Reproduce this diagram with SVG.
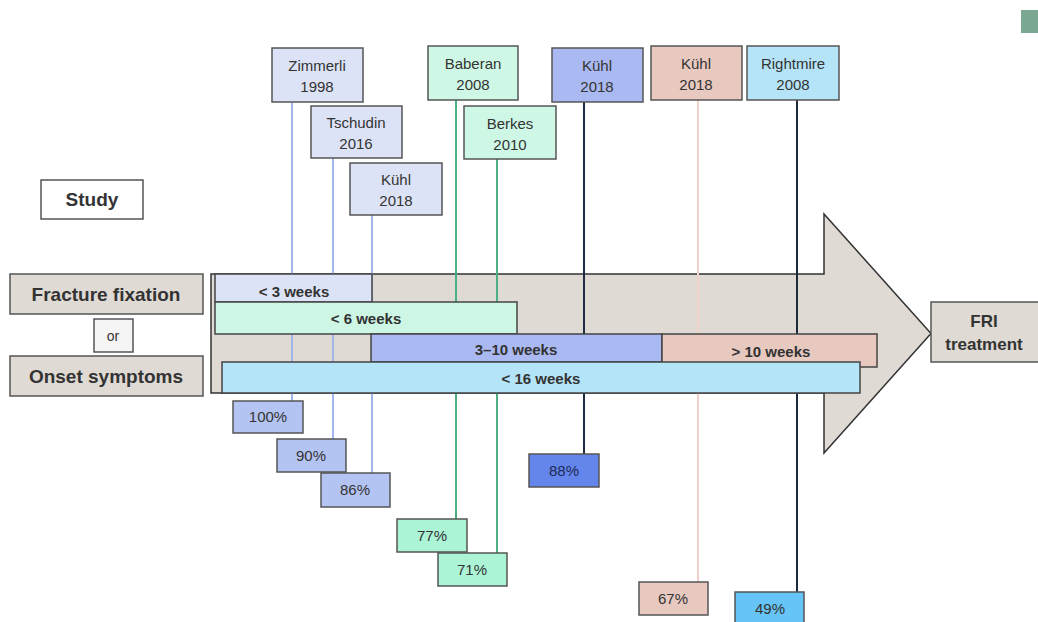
<svg xmlns="http://www.w3.org/2000/svg" width="1038" height="622" viewBox="0 0 1038 622">
<style>
text{font-family:"Liberation Sans",Arial,sans-serif;fill:#333;text-anchor:middle}
.b{stroke:#555;stroke-width:1.5}
.lbl{font-size:15px}
.bold{font-weight:bold}
.bar{stroke:#444;stroke-width:1.5}
.c{fill:none;stroke-width:2}
</style>
<rect width="1038" height="622" fill="#fff"/>
<rect x="1021" y="10" width="17" height="23" fill="#7aa892"/>

<g id="arrow">
<path d="M211,274 H824 V214 L931,333.5 L824,453 V393 H211 Z" fill="#dfdad4" stroke="#333" stroke-width="1.5"/>
</g>

<g id="connectors">
<line class="c" x1="292" y1="102" x2="292" y2="401" stroke="#a3b6ec"/>
<line class="c" x1="333" y1="158" x2="333" y2="439" stroke="#a3b6ec"/>
<line class="c" x1="372" y1="215" x2="372" y2="473" stroke="#a3b6ec"/>
<line class="c" x1="456" y1="100" x2="456" y2="519" stroke="#4cb083"/>
<line class="c" x1="497" y1="159" x2="497" y2="553" stroke="#4cb083"/>
<line class="c" x1="584" y1="102" x2="584" y2="454" stroke="#1f2b44"/>
<line class="c" x1="698" y1="100" x2="698" y2="582" stroke="#f0d2ca"/>
<line class="c" x1="797" y1="100" x2="797" y2="592" stroke="#1d2a38"/>
</g>

<g id="bars">
<g id="bar-3w"><rect class="bar" x="215" y="274" width="157" height="28" fill="#dde3f6"/><text class="lbl bold" x="294" y="297">&lt; 3 weeks</text></g>
<g id="bar-6w"><rect class="bar" x="215" y="302" width="302" height="32" fill="#cdf6e5"/><text class="lbl bold" x="366" y="324">&lt; 6 weeks</text></g>
<g id="bar-3-10w"><rect class="bar" x="371" y="334" width="291" height="28" fill="#aab9f1"/><text class="lbl bold" x="516" y="355">3–10 weeks</text></g>
<g id="bar-10w"><rect class="bar" x="662" y="334" width="215" height="33" fill="#e8c9c0"/><text class="lbl bold" x="771" y="357">&gt; 10 weeks</text></g>
<g id="bar-16w"><rect class="bar" x="222" y="362" width="638" height="31" fill="#b4e4f7"/><text class="lbl bold" x="541" y="384">&lt; 16 weeks</text></g>
</g>

<g id="study"><rect class="b" x="41" y="180" width="102" height="39" fill="#fff"/><text class="bold" style="font-size:19px" x="92" y="206">Study</text></g>
<g id="fracture"><rect class="b" x="10" y="274" width="193" height="40" fill="#dfdad4"/><text class="bold" style="font-size:19px" x="106" y="301">Fracture fixation</text></g>
<g id="or"><rect class="b" x="94" y="319" width="39" height="33" fill="#f5f5f5"/><text style="font-size:14px" x="113" y="341">or</text></g>
<g id="onset"><rect class="b" x="10" y="356" width="193" height="40" fill="#dfdad4"/><text class="bold" style="font-size:19px" x="106" y="383">Onset symptoms</text></g>
<g id="fri"><rect class="b" x="931" y="302" width="110" height="60" fill="#dfdad4"/><text class="bold" style="font-size:17px" x="984" y="327">FRI</text><text class="bold" style="font-size:17px" x="984" y="350">treatment</text></g>

<g id="zimmerli"><rect class="b" x="272" y="48" width="91" height="54" fill="#dde3f6"/><text class="lbl" x="317" y="71">Zimmerli</text><text class="lbl" x="317" y="92">1998</text></g>
<g id="tschudin"><rect class="b" x="311" y="106" width="91" height="52" fill="#dde3f6"/><text class="lbl" x="356" y="128">Tschudin</text><text class="lbl" x="356" y="149">2016</text></g>
<g id="kuhl1"><rect class="b" x="350" y="163" width="92" height="52" fill="#dde3f6"/><text class="lbl" x="396" y="185">Kühl</text><text class="lbl" x="396" y="206">2018</text></g>
<g id="baberan"><rect class="b" x="428" y="46" width="90" height="54" fill="#cff7e6"/><text class="lbl" x="473" y="69">Baberan</text><text class="lbl" x="473" y="90">2008</text></g>
<g id="berkes"><rect class="b" x="464" y="106" width="92" height="53" fill="#cff7e6"/><text class="lbl" x="510" y="129">Berkes</text><text class="lbl" x="510" y="150">2010</text></g>
<g id="kuhl2"><rect class="b" x="552" y="48" width="91" height="54" fill="#aab9f2"/><text class="lbl" x="597" y="71">Kühl</text><text class="lbl" x="597" y="92">2018</text></g>
<g id="kuhl3"><rect class="b" x="651" y="46" width="91" height="54" fill="#e8c9c0"/><text class="lbl" x="696" y="69">Kühl</text><text class="lbl" x="696" y="90">2018</text></g>
<g id="rightmire"><rect class="b" x="747" y="46" width="92" height="54" fill="#b5e4f8"/><text class="lbl" x="793" y="69">Rightmire</text><text class="lbl" x="793" y="90">2008</text></g>

<g id="p100"><rect class="b" x="233" y="401" width="70" height="32" fill="#b4c4f2"/><text class="lbl" x="268" y="422">100%</text></g>
<g id="p90"><rect class="b" x="277" y="439" width="69" height="33" fill="#b4c4f2"/><text class="lbl" x="311" y="461">90%</text></g>
<g id="p86"><rect class="b" x="321" y="473" width="69" height="34" fill="#b4c4f2"/><text class="lbl" x="355" y="495">86%</text></g>
<g id="p77"><rect class="b" x="397" y="519" width="70" height="33" fill="#abf5d6"/><text class="lbl" x="432" y="541">77%</text></g>
<g id="p71"><rect class="b" x="438" y="553" width="69" height="33" fill="#abf5d6"/><text class="lbl" x="472" y="575">71%</text></g>
<g id="p88"><rect class="b" x="529" y="454" width="70" height="33" fill="#6486ec"/><text class="lbl" x="564" y="476" style="fill:#1c2a55">88%</text></g>
<g id="p67"><rect class="b" x="639" y="582" width="69" height="33" fill="#e8c9c0"/><text class="lbl" x="673" y="604">67%</text></g>
<g id="p49"><rect class="b" x="735" y="592" width="69" height="34" fill="#66c4f6"/><text class="lbl" x="770" y="614">49%</text></g>
</svg>
